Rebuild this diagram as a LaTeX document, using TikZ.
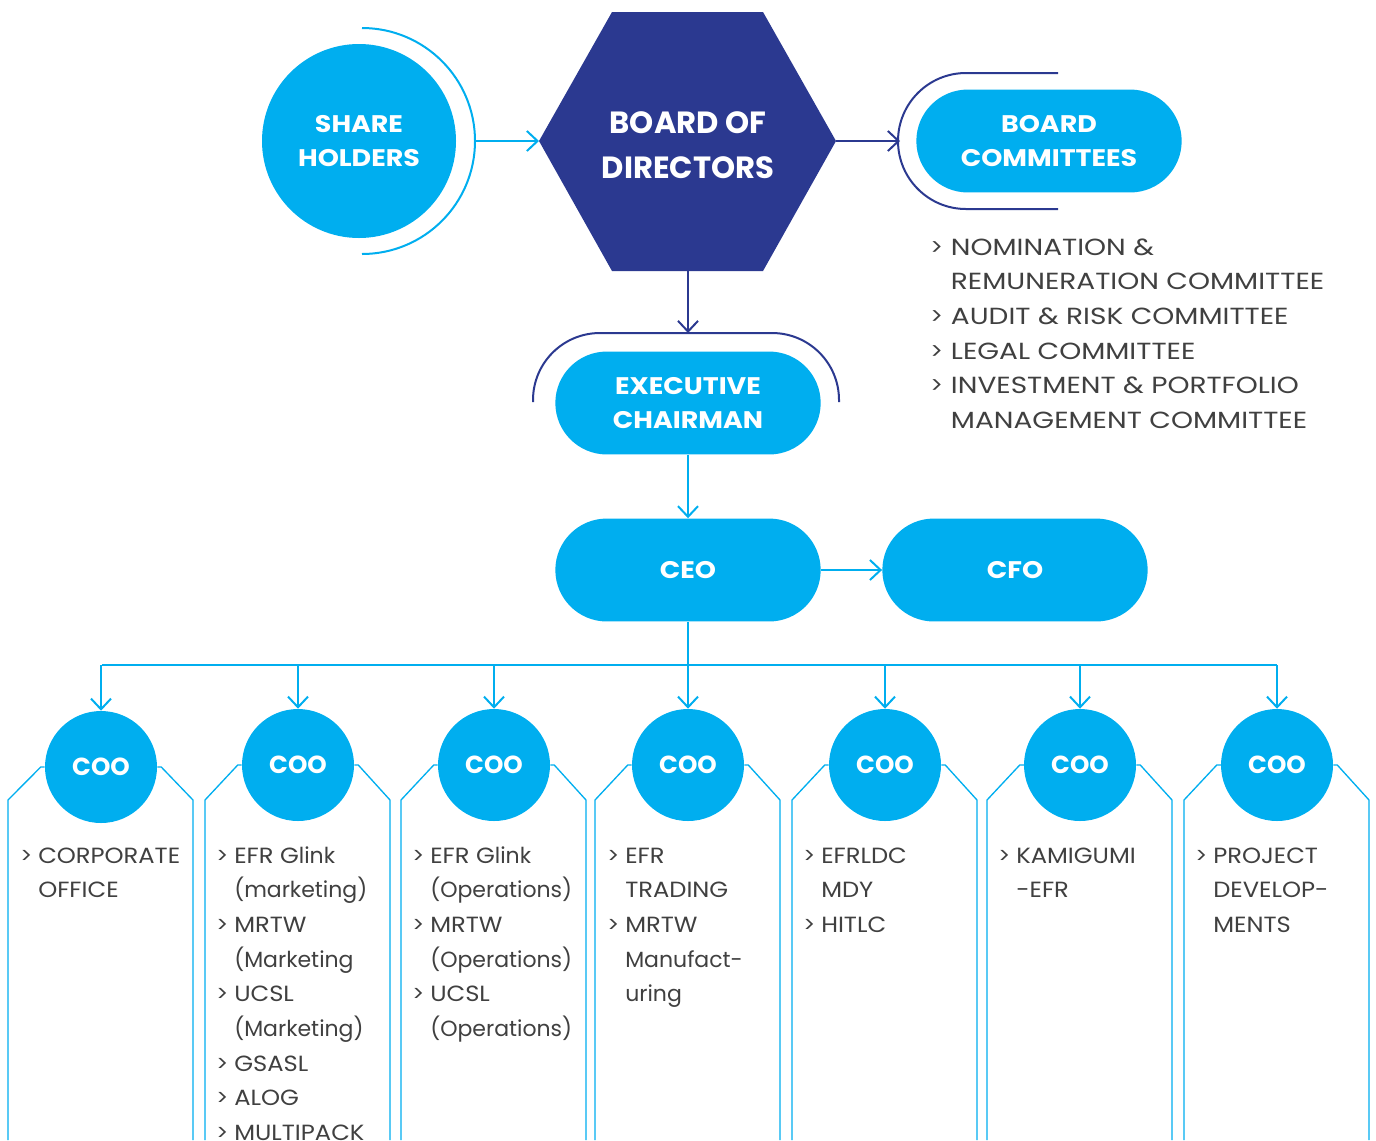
\documentclass[tikz,border=0pt]{standalone}
\usepackage{fontspec}
\setmainfont{Poppins}
\newfontfamily\capf{Poppins}[FakeStretch=1.1]
\newfontfamily\comf{Poppins}[FakeStretch=1.2]
\newfontfamily\labf{Poppins}[FakeStretch=1.12]
\usetikzlibrary{arrows.meta,calc}
\definecolor{cy}{HTML}{00AEEF}
\definecolor{navy}{HTML}{2B3990}
\definecolor{txt}{HTML}{404040}
\newcommand\bl{\makebox[13.5pt][l]{\rmfamily>}}
\newcommand\ind{\hspace*{13.5pt}}
\newcommand\blc{\makebox[15.5pt][l]{\rmfamily>}}
\newcommand\indc{\hspace*{15.5pt}}
\newcommand\fst{\rule{0pt}{13.5pt}}
\newcommand\C[1]{{\capf #1}}
\begin{document}
\begin{tikzpicture}[x=0.75pt,y=-0.75pt,
  lab/.style={text=white,font=\labf\bfseries\fontsize{18}{25.5}\selectfont,align=center},
  pill/.style={lab,fill=cy,rounded corners=38.6pt,minimum width=199pt,minimum height=77.2pt,inner sep=0pt},
  coo/.style={lab,font=\rmfamily\bfseries\fontsize{18.5}{25.5}\selectfont,circle,fill=cy,minimum size=84pt,inner sep=0pt},
  ctext/.style={text=txt,font=\fontsize{16.5}{26}\selectfont,align=left,anchor=north west,inner sep=0pt},
  carrow/.style={draw=cy,line width=1.5pt,-{Straight Barb[length=8pt,width=15pt,line width=1.5pt]}},
  narrow/.style={draw=navy,line width=1.5pt,-{Straight Barb[length=8pt,width=15pt,line width=1.5pt]}},
  cline/.style={draw=cy,line width=1.5pt},
  nline/.style={draw=navy,line width=1.5pt},
  frame/.style={draw=cy,line width=1pt}
]
\useasboundingbox (0,0) rectangle (1376,1140);

% Share holders
\node[lab,circle,fill=cy,minimum size=145.5pt,inner sep=0pt] (sh) at (359,141) {SHARE\\HOLDERS};
\draw[cline] (362,28) arc[start angle=90,end angle=-90,radius=84.75pt];
\coordinate (sharc) at (475,141);

% Board of directors hexagon
\coordinate (hexL) at (539,141);
\coordinate (hexR) at (836,141);
\coordinate (hexB) at (688,271);
\fill[navy] (hexL) -- (612,12) -- (763,12) -- (hexR) -- (763,271) -- (612,271) -- cycle;
\node[text=white,font=\bfseries\fontsize{23}{34}\selectfont,align=center] (bod) at (688,145) {BOARD OF\\DIRECTORS};
\draw[carrow] (sharc) -- (hexL);

% Board committees
\node[pill] (bc) at (1049,141) {BOARD\\COMMITTEES};
\draw[nline] (1058,73) -- (966,73) arc[start angle=90,end angle=270,radius=51pt] -- (1058,209);
\coordinate (bcarc) at (900,141);
\draw[narrow] (hexR) -- (bcarc);
\node[ctext,font=\comf\fontsize{17.5}{26}\selectfont] (comm) at (930,237) {\fst\blc NOMINATION \&\\\indc REMUNERATION COMMITTEE\\\blc AUDIT \& RISK COMMITTEE\\\blc LEGAL COMMITTEE\\\blc INVESTMENT \& PORTFOLIO\\\indc MANAGEMENT COMMITTEE};

% Executive chairman
\node[pill] (ec) at (688,403) {EXECUTIVE\\CHAIRMAN};
\draw[nline] (533,402) -- (533,400) arc[start angle=180,end angle=90,radius=50.25pt] -- (772,333) arc[start angle=90,end angle=0,radius=50.25pt] -- (839,402);
\coordinate (ecarc) at (688,333);
\draw[narrow] (hexB) -- (ecarc);

% CEO / CFO
\node[pill] (ceo) at (688,570) {CEO};
\node[pill] (cfo) at (1015,570) {CFO};
\draw[carrow] (ec.south) -- (ceo.north);
\draw[carrow] (ceo.east) -- (cfo.west);

% COOs
\foreach \i/\cx/\cy in {1/101/767,2/298/765,3/494/765,4/688/765,5/885/765,6/1080/765,7/1277/765}{
  \node[coo] (coo\i) at (\cx,\cy) {COO};
  \draw[frame] (coo\i.west) -- ++(-4,0) -- (\cx-93,800) -- (\cx-93,1140);
  \draw[frame] (coo\i.east) -- ++(4,0) -- (\cx+92,800) -- (\cx+92,1140);
}
\coordinate (busL) at (102,665);
\coordinate (busR) at (1277,665);
\draw[cline] (busL) -- (busR);
\draw[carrow] (ceo.south) -- (coo4.north);
\foreach \i in {1,2,3,5,6,7}{
  \draw[carrow] (coo\i.north |- busL) -- (coo\i.north);
}

% Column texts
\node[ctext] (t1) at (20,845) {\fst\bl\C{CORPORATE}\\\ind\C{OFFICE}};
\node[ctext] (t2) at (216,845) {\fst\bl\C{EFR G}link\\\ind (marketing)\\\bl\C{MRTW}\\\ind (Marketing\\\bl\C{UCSL}\\\ind (Marketing)\\\bl\C{GSASL}\\\bl\C{ALOG}\\\bl\C{MULTIPACK}};
\node[ctext] (t3) at (412,845) {\fst\bl\C{EFR G}link\\\ind (Operations)\\\bl\C{MRTW}\\\ind (Operations)\\\bl\C{UCSL}\\\ind (Operations)};
\node[ctext] (t4) at (607,845) {\fst\bl\C{EFR}\\\ind\C{TRADING}\\\bl\C{MRTW}\\\ind Manufact-\\\ind uring};
\node[ctext] (t5) at (803,845) {\fst\bl\C{EFRLDC}\\\ind\C{MDY}\\\bl\C{HITLC}};
\node[ctext] (t6) at (998,845) {\fst\bl\C{KAMIGUMI}\\\ind\C{-EFR}};
\node[ctext] (t7) at (1195,845) {\fst\bl\C{PROJECT}\\\ind\C{DEVELOP-}\\\ind\C{MENTS}};
\end{tikzpicture}
\end{document}
